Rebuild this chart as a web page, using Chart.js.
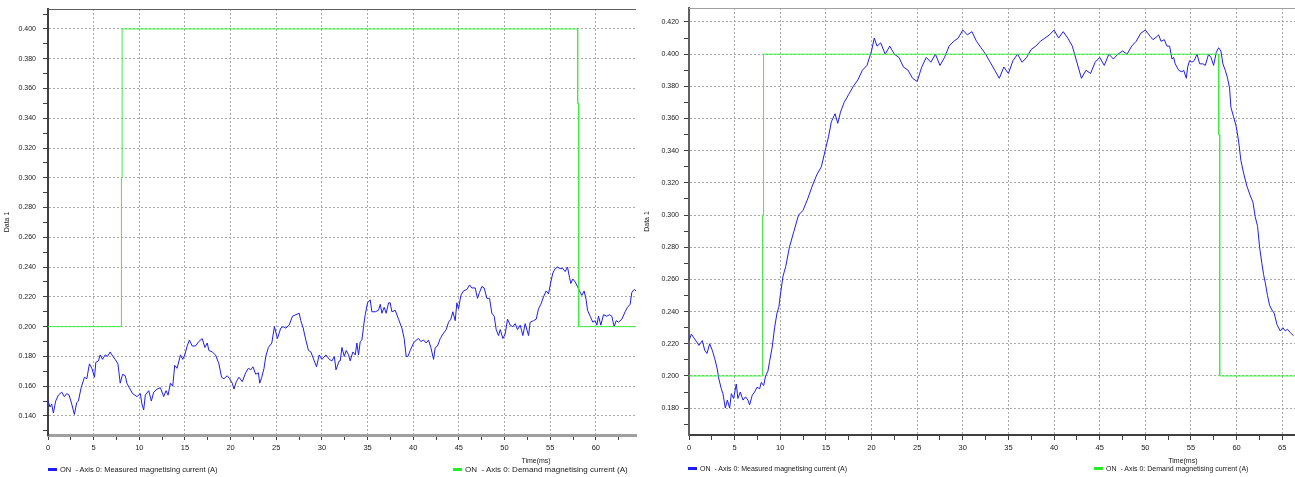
<!DOCTYPE html>
<html>
<head>
<meta charset="utf-8">
<script src="https://cdn.jsdelivr.net/npm/chart.js@4.4.1/dist/chart.umd.min.js"></script>
<style>
  body { margin: 0; background: #fff; width: 1295px; height: 477px; overflow: hidden; position: relative; }
  canvas { position: absolute; top: 0; }
  #c-left { left: 0; }
  #c-right { left: 640px; }
  .leg { position: absolute; top: 465px; font-family: 'Liberation Sans', Arial, sans-serif; color: #202020; white-space: pre; display: flex; align-items: center; }
  .leg .sw { display: inline-block; width: 9px; height: 3px; margin-right: 3px; }
</style>
</head>
<body>
<canvas id="c-left" width="640" height="477"></canvas>
<canvas id="c-right" width="655" height="477"></canvas>

<div class="leg" style="left:48px;font-size:7.5px;"><span class="sw" style="background:#1c1cff"></span>ON  - Axis 0: Measured magnetising current (A)</div>
<div class="leg" style="left:453px;font-size:8px;"><span class="sw" style="background:#22ee22"></span>ON  - Axis 0: Demand magnetising current (A)</div>
<div class="leg" style="left:688px;font-size:7px;"><span class="sw" style="background:#1c1cff"></span>ON  - Axis 0: Measured magnetising current (A)</div>
<div class="leg" style="left:1094px;font-size:7px;"><span class="sw" style="background:#22ee22"></span>ON  - Axis 0: Demand magnetising current (A)</div>

<script>
const xTickStep = 2.5;  // labels every 5 ms, minor marks every 2.5
const yTickStep = 0.01; // labels every 0.02, minor marks every 0.01

// left capture
const leftTime = [
  0.0, 0.22, 0.40, 0.59, 0.84, 1.14, 1.50, 1.79, 2.05, 2.31, 2.60, 2.89, 3.15, 3.33, 3.63, 3.99, 4.25, 4.54, 4.80, 5.09,
  5.24, 5.53, 5.71, 5.97, 6.26, 6.52, 6.81, 7.00, 7.36, 7.66, 7.91, 8.17, 8.46, 8.64, 8.90, 9.27, 9.74, 10.11, 10.29, 10.48,
  10.66, 11.03, 11.32, 11.58, 11.94, 12.31, 12.67, 12.93, 13.15, 13.41, 13.66, 13.88, 14.14, 14.51, 14.76, 14.98, 15.24, 15.49, 15.79, 16.15,
  16.52, 16.89, 17.18, 17.44, 17.62, 17.99, 18.35, 18.72, 19.01, 19.27, 19.63, 19.89, 20.18, 20.37, 20.62, 20.92, 21.28, 21.65, 21.94, 22.20,
  22.45, 22.75, 23.04, 23.19, 23.41, 23.66, 23.85, 24.14, 24.51, 24.80, 25.13, 25.49, 25.75, 26.04, 26.41, 26.78, 27.14, 27.51, 27.69, 27.95,
  28.24, 28.53, 28.79, 29.16, 29.41, 29.71, 30.00, 30.44, 30.81, 31.10, 31.36, 31.54, 31.90,
  32.01, 32.19, 32.45, 32.66, 32.92, 33.10, 33.39, 33.65, 33.83, 34.01, 34.20, 34.38, 34.56, 34.74, 35.00, 35.29, 35.47, 35.84, 36.20, 36.39,
  36.57, 36.82, 37.04, 37.30, 37.48, 37.66, 38.03, 38.39, 38.76, 39.01, 39.23, 39.42, 39.67, 40.04, 40.33, 40.58, 40.84, 41.13, 41.42, 41.68,
  41.93, 42.23, 42.41, 42.66, 42.96, 43.25, 43.61, 43.87, 44.12, 44.34, 44.60, 44.78, 44.96, 45.22, 45.51, 45.88, 46.17, 46.42, 46.79, 47.04,
  47.26, 47.52, 47.77, 48.07, 48.36, 48.61, 48.87, 49.09, 49.34, 49.53, 49.82, 50.07, 50.33, 50.62, 50.91, 51.17, 51.42, 51.72, 52.01, 52.26,
  52.63, 52.81, 53.18, 53.47, 53.72, 53.98, 54.27, 54.56, 54.82, 55.07, 55.29, 55.55, 55.80, 56.09, 56.39, 56.64, 56.90, 57.12, 57.26, 57.48,
  57.74, 57.99, 58.21, 58.47, 58.72, 58.94, 59.09, 59.38, 59.67, 59.93, 60.11, 60.29, 60.55, 60.84, 61.20, 61.50, 61.75, 62.01, 62.23, 62.48,
  62.85, 63.21, 63.47, 63.76, 63.94, 64.20, 64.40
];
const leftMeasured = [
  0.150, 0.146, 0.148, 0.142, 0.150, 0.154, 0.156, 0.153, 0.155, 0.154, 0.148, 0.141, 0.149, 0.150, 0.159, 0.166, 0.165, 0.175, 0.172, 0.166,
  0.176, 0.177, 0.181, 0.178, 0.181, 0.180, 0.183, 0.181, 0.178, 0.175, 0.162, 0.168, 0.167, 0.162, 0.159, 0.155, 0.153, 0.155, 0.148, 0.144,
  0.154, 0.157, 0.150, 0.156, 0.158, 0.159, 0.153, 0.157, 0.154, 0.162, 0.160, 0.174, 0.172, 0.181, 0.178, 0.181, 0.187, 0.191, 0.187, 0.187,
  0.190, 0.192, 0.186, 0.189, 0.184, 0.183, 0.181, 0.175, 0.166, 0.165, 0.167, 0.165, 0.162, 0.158, 0.163, 0.166, 0.163, 0.169, 0.172, 0.171,
  0.173, 0.168, 0.169, 0.162, 0.166, 0.172, 0.180, 0.186, 0.189, 0.200, 0.192, 0.199, 0.200, 0.199, 0.201, 0.207, 0.208, 0.209, 0.204, 0.199,
  0.191, 0.184, 0.183, 0.177, 0.173, 0.181, 0.178, 0.181, 0.178, 0.177, 0.180, 0.171, 0.177,
  0.177, 0.186, 0.180, 0.184, 0.181, 0.177, 0.183, 0.181, 0.189, 0.181, 0.190, 0.191, 0.200, 0.208, 0.216, 0.218, 0.210, 0.210, 0.211, 0.215,
  0.209, 0.213, 0.209, 0.216, 0.216, 0.210, 0.211, 0.205, 0.199, 0.192, 0.180, 0.180, 0.184, 0.189, 0.191, 0.192, 0.190, 0.191, 0.189, 0.191,
  0.186, 0.178, 0.186, 0.187, 0.192, 0.195, 0.198, 0.203, 0.205, 0.210, 0.204, 0.216, 0.212, 0.221, 0.224, 0.225, 0.228, 0.226, 0.226, 0.219,
  0.223, 0.227, 0.226, 0.219, 0.219, 0.209, 0.207, 0.198, 0.194, 0.198, 0.192, 0.195, 0.205, 0.201, 0.200, 0.202, 0.198, 0.201, 0.194, 0.202,
  0.194, 0.203, 0.204, 0.205, 0.212, 0.215, 0.220, 0.224, 0.222, 0.230, 0.236, 0.239, 0.240, 0.239, 0.239, 0.237, 0.240, 0.233, 0.229, 0.232,
  0.230, 0.227, 0.224, 0.221, 0.224, 0.218, 0.211, 0.207, 0.203, 0.204, 0.201, 0.207, 0.201, 0.208, 0.207, 0.208, 0.207, 0.200, 0.204, 0.203,
  0.205, 0.210, 0.213, 0.215, 0.223, 0.225, 0.224
];
const leftDemandTime = [0, 8.04, 8.04, 8.12, 8.12, 58.01, 58.01, 58.12, 58.12, 64.40];
const leftDemand     = [0.200, 0.200, 0.300, 0.300, 0.400, 0.400, 0.350, 0.350, 0.200, 0.200];

// right capture
const rightTime = [
  0.00, 0.26, 0.62, 1.09, 1.46, 1.72, 1.97, 2.26, 2.55, 2.81, 3.07, 3.28, 3.54, 3.72, 3.98, 4.20, 4.45, 4.64, 4.89, 5.18,
  5.36, 5.62, 5.91, 6.20, 6.46, 6.64, 6.93, 7.19, 7.45, 7.74, 7.92, 8.18, 8.39, 8.65, 8.83, 9.12, 9.38, 9.64, 9.85, 9.93,
  10.3, 10.6, 11.0, 11.5, 12.0, 12.5, 13.0, 13.5, 14.0, 14.5, 15.0, 15.3, 15.6, 16.0, 16.3, 16.6, 17.0, 17.5, 18.0, 18.5,
  19.0, 19.5, 20.0, 20.3, 20.6, 21.0, 21.5, 22.0, 22.5, 23.0, 23.5, 24.0, 24.5, 25.0, 25.5, 26.0, 26.5, 27.0, 27.5, 28.0,
  28.5, 29.0, 29.5, 30.0, 30.5, 31.0, 31.5, 32.0, 32.5, 33.0, 33.5, 34.0, 34.5, 35.0, 35.5, 36.0, 36.5, 37.0, 37.5, 38.0,
  38.5, 39.0, 39.5, 40.0, 40.5, 41.0, 41.5, 42.0, 42.5, 43.0, 43.5, 44.0, 44.5, 45.0, 45.5, 46.0, 46.5, 47.0, 47.5, 48.0,
  48.5, 49.0, 49.5, 50.0,
  50.55, 50.84, 51.28, 51.46, 51.72, 52.08, 52.37, 52.66, 52.92, 53.10, 53.28, 53.65, 54.01, 54.20, 54.49, 54.64, 54.85, 55.11, 55.36, 55.66,
  55.95, 56.31, 56.57, 56.93, 57.19, 57.48, 57.77, 58.03, 58.28, 58.50, 58.76, 59.01, 59.23, 59.38, 59.67, 59.96, 60.22, 60.47, 60.77, 61.13,
  61.50, 61.79, 62.04, 62.30, 62.52, 62.77, 62.96, 63.14, 63.39, 63.61, 63.87, 64.12, 64.42, 64.78, 65.07, 65.33, 65.58, 65.88, 66.24
];
const rightMeasured = [
  0.222, 0.226, 0.223, 0.219, 0.222, 0.216, 0.214, 0.220, 0.216, 0.211, 0.205, 0.198, 0.192, 0.189, 0.180, 0.185, 0.180, 0.189, 0.186, 0.195,
  0.186, 0.190, 0.185, 0.187, 0.185, 0.182, 0.188, 0.190, 0.193, 0.192, 0.196, 0.194, 0.200, 0.203, 0.209, 0.218, 0.230, 0.239, 0.243, 0.247,
  0.262, 0.268, 0.280, 0.290, 0.300, 0.303, 0.310, 0.318, 0.325, 0.330, 0.342, 0.349, 0.358, 0.363, 0.357, 0.364, 0.370, 0.375, 0.380, 0.384,
  0.390, 0.393, 0.402, 0.410, 0.405, 0.407, 0.400, 0.405, 0.400, 0.398, 0.392, 0.390, 0.385, 0.383, 0.392, 0.398, 0.395, 0.400, 0.393, 0.398,
  0.405, 0.408, 0.410, 0.415, 0.412, 0.414, 0.408, 0.404, 0.400, 0.395, 0.390, 0.385, 0.392, 0.388, 0.396, 0.400, 0.395, 0.398, 0.403, 0.405,
  0.408, 0.410, 0.412, 0.415, 0.410, 0.414, 0.410, 0.405, 0.395, 0.385, 0.390, 0.388, 0.395, 0.398, 0.393, 0.400, 0.397, 0.400, 0.402, 0.400,
  0.405, 0.408, 0.413, 0.415,
  0.411, 0.409, 0.411, 0.412, 0.408, 0.409, 0.405, 0.405, 0.397, 0.398, 0.394, 0.390, 0.389, 0.390, 0.385, 0.392, 0.396, 0.395, 0.396, 0.400,
  0.394, 0.394, 0.393, 0.400, 0.398, 0.393, 0.401, 0.404, 0.402, 0.394, 0.390, 0.385, 0.379, 0.367, 0.361, 0.355, 0.346, 0.334, 0.326, 0.318,
  0.312, 0.308, 0.299, 0.293, 0.280, 0.270, 0.263, 0.258, 0.250, 0.244, 0.241, 0.239, 0.232, 0.228, 0.230, 0.228, 0.229, 0.227, 0.225
];
const rightDemandTime = [0, 8.06, 8.06, 8.17, 8.17, 58.04, 58.04, 58.15, 58.15, 66.40];
const rightDemand     = [0.200, 0.200, 0.300, 0.300, 0.400, 0.400, 0.350, 0.350, 0.200, 0.200];

const measuredLabel = 'ON  - Axis 0: Measured magnetising current (A)';
const demandLabel = 'ON  - Axis 0: Demand magnetising current (A)';

// ---- helpers ----
const FONT = "'Liberation Sans', Arial, sans-serif";
const pairs = (xs, ys) => xs.map((x, i) => ({ x, y: ys[i] }));

// top frame line + x axis caption
const framePlugin = {
  id: 'frame',
  afterDraw(chart, args, opts) {
    const { ctx, chartArea: a } = chart;
    ctx.save();
    ctx.strokeStyle = opts.topColor;
    ctx.lineWidth = 1;
    ctx.beginPath();
    ctx.moveTo(a.left, a.top + 0.5);
    ctx.lineTo(a.right, a.top + 0.5);
    ctx.stroke();
    ctx.fillStyle = '#202020';
    ctx.font = '7px ' + FONT;
    ctx.textAlign = 'center';
    ctx.textBaseline = 'middle';
    ctx.fillText('Time(ms)', a.left + (a.right - a.left) * opts.captionAt, 461);
    ctx.restore();
  }
};

function makeChart(id, cfg) {
  const isMajorX = v => Math.abs(v / 5 - Math.round(v / 5)) < 1e-6;
  const isMajorY = v => Math.round(v * 1000) % 20 === 0;
  return new Chart(document.getElementById(id), {
    type: 'line',
    data: {
      datasets: [
        { label: measuredLabel, data: pairs(cfg.time, cfg.measured), borderColor: '#1c1cff', borderWidth: 1, pointRadius: 0, tension: 0, order: 2 },
        { label: demandLabel, data: pairs(cfg.demandTime, cfg.demand), borderColor: '#3cf03c', borderWidth: 1, pointRadius: 0, tension: 0, order: 1 }
      ]
    },
    options: {
      responsive: false,
      animation: false,
      layout: { padding: cfg.padding },
      plugins: {
        legend: { display: false },
        tooltip: { enabled: false },
        frame: { topColor: cfg.topColor, captionAt: cfg.captionAt }
      },
      scales: {
        x: {
          type: 'linear',
          min: 0, max: cfg.xMax,
          afterFit: s => { s.height = 20; s.paddingLeft = 0; s.paddingRight = 0; },
          ticks: {
            stepSize: xTickStep, autoSkip: false, includeBounds: false, maxRotation: 0, padding: 3,
            color: '#202020', font: { family: FONT, size: 7.5 },
            callback: v => isMajorX(v) ? String(Math.round(v)) : ''
          },
          grid: {
            tickLength: 5, tickColor: '#404040',
            color: c => (c.tick && isMajorX(c.tick.value) && c.tick.value > 0) ? '#a8a8a8' : 'rgba(0,0,0,0)'
          },
          border: { display: true, color: cfg.xBorder, width: cfg.xBorderWidth, dash: [2, 2] }
        },
        y: {
          min: cfg.yMin, max: cfg.yMax,
          afterFit: s => { s.width = cfg.yWidth; s.paddingTop = 0; s.paddingBottom = 0; },
          ticks: {
            stepSize: yTickStep, autoSkip: false, includeBounds: false, padding: cfg.yLabelPad,
            color: '#202020', font: { family: FONT, size: 7 },
            callback: v => isMajorY(v) ? v.toFixed(3) : ''
          },
          title: { display: true, text: 'Data 1', color: '#202020', font: { family: FONT, size: 7 }, padding: 3 },
          grid: {
            tickLength: 5, tickColor: '#404040',
            color: c => (c.tick && isMajorY(c.tick.value)) ? '#a8a8a8' : 'rgba(0,0,0,0)'
          },
          border: { display: true, color: cfg.yBorder, width: 2, dash: [2, 2] }
        }
      }
    },
    plugins: [framePlugin]
  });
}

makeChart('c-left', {
  time: leftTime, measured: leftMeasured, demandTime: leftDemandTime, demand: leftDemand,
  xMax: 64.4, yMin: 0.1272, yMax: 0.4134, yWidth: 48, yLabelPad: 7,
  padding: { left: 0, right: 4, top: 9, bottom: 22 },
  topColor: '#606060', xBorder: '#a0a0a0', xBorderWidth: 3, yBorder: '#404040', captionAt: 0.83
});

makeChart('c-right', {
  time: rightTime, measured: rightMeasured, demandTime: rightDemandTime, demand: rightDemand,
  xMax: 66.4, yMin: 0.1633, yMax: 0.4287, yWidth: 49, yLabelPad: 5,
  padding: { left: 0, right: 0, top: 8, bottom: 22 },
  topColor: '#a0a0a0', xBorder: '#404040', xBorderWidth: 2, yBorder: '#606060', captionAt: 0.815
});
</script>
</body>
</html>
